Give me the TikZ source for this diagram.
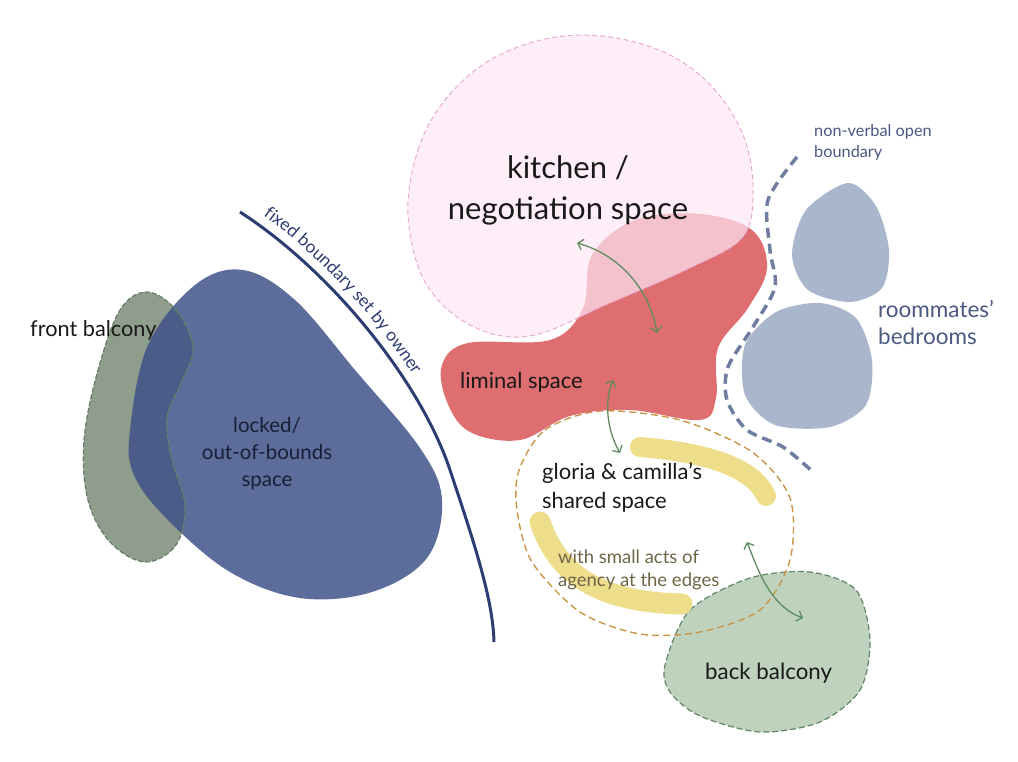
\documentclass[tikz,border=0pt]{standalone}
\usepackage{fontspec}
\setmainfont{Lato}
\usetikzlibrary{arrows.meta,decorations.text}
\definecolor{lockblue}{RGB}{92,109,155}
\definecolor{frontgreen}{RGB}{143,157,140}
\definecolor{frontedge}{RGB}{100,128,100}
\definecolor{overlapc}{RGB}{74,92,135}
\definecolor{liminalred}{RGB}{222,110,112}
\definecolor{kitchenpink}{RGB}{252,231,245}
\definecolor{kitchenedge}{RGB}{232,165,208}
\definecolor{yellowc}{RGB}{238,222,140}
\definecolor{orangec}{RGB}{200,150,70}
\definecolor{backgreen}{RGB}{190,210,190}
\definecolor{backedge}{RGB}{95,135,100}
\definecolor{bedc}{RGB}{170,182,204}
\definecolor{opendash}{RGB}{110,125,160}
\definecolor{navyc}{RGB}{45,60,115}
\definecolor{arrowc}{RGB}{95,140,95}
\definecolor{darktext}{RGB}{25,25,25}
\definecolor{locktext}{RGB}{25,30,55}
\definecolor{agencytext}{RGB}{110,100,70}
\definecolor{bedtext}{RGB}{74,88,130}
\tikzset{
  lbl/.style={inner sep=0pt, text=darktext},
  conn/.style={draw=arrowc, line width=1.3pt, {Straight Barb[length=5pt,width=11pt]}-{Straight Barb[length=5pt,width=11pt]}},
  yellowstroke/.style={draw=yellowc, line width=20pt, line cap=round},
}
\begin{document}
\begin{tikzpicture}[x=1pt,y=-1pt]
\useasboundingbox (0,0) rectangle (1018,761);
% locked / out-of-bounds
\def\lockpath{plot[smooth cycle, tension=0.6] coordinates {(130,430) (148,345) (195,285) (243,270) (295,300) (355,370) (420,448) (442,500) (427,558) (372,592) (300,598) (230,572) (168,520) (134,475)}}
\def\frontpath{plot[smooth cycle, tension=0.6] coordinates {(147,292) (176,310) (193,348) (180,385) (167,418) (172,460) (185,505) (176,545) (145,562) (110,542) (88,500) (84,440) (98,370) (120,310)}}
\fill[lockblue] \lockpath;
\fill[frontgreen] \frontpath;
\begin{scope}
  \clip \lockpath;
  \fill[overlapc] \frontpath;
\end{scope}
\draw[frontedge, line width=1.2pt, dash pattern=on 5pt off 2pt] \frontpath;
% fixed boundary
\draw[navyc, line width=3pt] (240,212) .. controls (330,270) and (420,380) .. (450,470) .. controls (475,545) and (493,600) .. (494,642);
\path[decorate, decoration={text along path, text align={left indent=22pt},
  text={|\fontsize{17.5}{17.5}\selectfont\color{navyc}|fixed boundary set by owner}}]
  (245,203) .. controls (335,261) and (429,376) .. (460,467);
% back balcony
\path[fill=backgreen, draw=backedge, line width=1.2pt, dash pattern=on 6pt off 3pt]
  plot[smooth cycle] coordinates {(665,665) (690,610) (750,578) (810,572) (856,590) (870,640) (860,690) (820,722) (760,732) (700,716) (670,692)};
% yellow strokes
\draw[yellowstroke] (640,447) .. controls (700,452) and (752,465) .. (766,496);
\draw[yellowstroke, line width=21pt] (540,522) .. controls (560,580) and (605,602) .. (682,604);
% shared space dashed boundary
\draw[orangec, line width=1.4pt, dash pattern=on 7pt off 4pt]
  plot[smooth cycle] coordinates {(519,470) (545,430) (600,411) (680,420) (752,452) (790,498) (790,560) (760,610) (700,632) (640,634) (580,612) (532,562) (517,510)};
% liminal
\fill[liminalred] plot[smooth cycle, tension=0.6] coordinates {(442,365) (468,343) (550,340) (583,308) (592,255) (635,220) (700,214) (752,230) (767,268) (748,308) (718,348) (716,398) (700,420) (630,410) (570,416) (520,440) (470,432) (447,402)};
% kitchen
\path[fill=kitchenpink, fill opacity=0.7, draw=kitchenedge, line width=0.9pt, dash pattern=on 5pt off 3pt]
  plot[smooth cycle, tension=0.6] coordinates {(408,215) (418,150) (445,100) (490,60) (550,38) (610,37) (670,55) (715,90) (745,140) (753,195) (742,238) (690,268) (610,303) (530,336) (470,325) (425,282)};
% bedrooms
\fill[bedc] plot[smooth cycle] coordinates {(848,183) (876,206) (889,250) (882,288) (850,302) (808,290) (792,255) (806,210)};
\fill[bedc] plot[smooth cycle] coordinates {(820,303) (856,318) (872,360) (866,405) (830,427) (775,425) (745,395) (745,345) (776,312)};
% non-verbal open boundary
\draw[opendash, line width=3.5pt, dash pattern=on 10pt off 6pt]
  plot[smooth] coordinates {(797,157) (768,200) (770,250) (775,287) (753,327) (728,367) (727,400) (747,430) (783,447) (813,472)};
% connectors
\coordinate (k1) at (577,243);
\coordinate (l1) at (657,333);
\coordinate (l2) at (613,380);
\coordinate (s1) at (620,453);
\coordinate (s2) at (747,542);
\coordinate (b1) at (803,618);
\draw[conn] (k1) .. controls (620,255) and (650,290) .. (l1);
\draw[conn] (l2) .. controls (604,402) and (607,430) .. (s1);
\draw[conn] (s2) .. controls (758,570) and (770,606) .. (b1);
% labels
\node[lbl, align=center, font=\fontsize{31}{41}\selectfont] (kitchen) at (568,190) {kitchen /\\negotiation space};
\node[lbl, anchor=base west, font=\fontsize{21.7}{24}\selectfont] (front) at (30,336) {front balcony};
\node[lbl, align=center, text=locktext, font=\fontsize{20.5}{27}\selectfont] (locked) at (267,454) {locked/\\out-of-bounds\\space};
\node[lbl, anchor=base west, font=\fontsize{22}{24}\selectfont] (liminal) at (460,388) {liminal space};
\node[lbl, align=left, anchor=west, font=\fontsize{22}{29}\selectfont] (shared) at (542,487) {gloria \& camilla’s\\shared space};
\node[lbl, align=left, anchor=west, text=agencytext, font=\fontsize{18.5}{23}\selectfont] (agency) at (558,570) {with small acts of\\agency at the edges};
\node[lbl, anchor=base west, font=\fontsize{22.3}{24}\selectfont] (back) at (705,679) {back balcony};
\node[lbl, align=left, anchor=west, text=bedtext, font=\fontsize{22.5}{27}\selectfont] (bed) at (878,322) {roommates’\\bedrooms};
\node[lbl, align=left, anchor=west, text=bedtext, font=\fontsize{16.3}{21}\selectfont] (nonverbal) at (814,142) {non-verbal open\\boundary};
\end{tikzpicture}
\end{document}
